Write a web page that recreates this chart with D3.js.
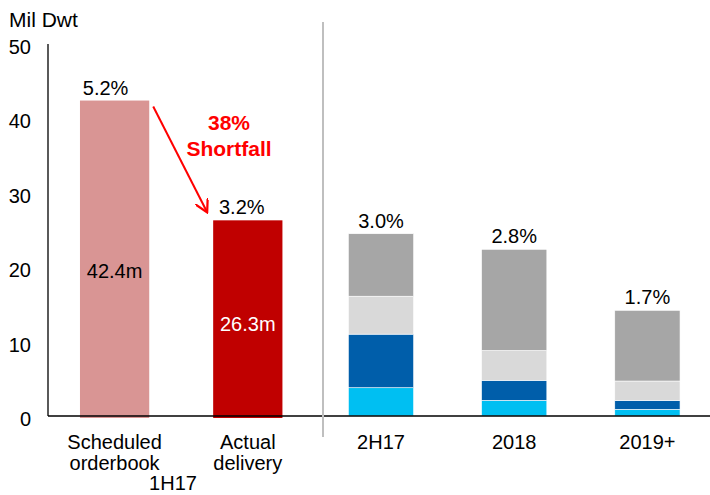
<!DOCTYPE html>
<html>
<head>
<meta charset="utf-8">
<script src="https://cdn.jsdelivr.net/npm/d3@7"></script>
<style>
  body { margin: 0; background: #fff; }
  text { font-family: "Liberation Sans", Arial, sans-serif; }
</style>
</head>
<body>
<div id="chart"></div>
<script>
// data
const categories = ["sched", "actual", "2H17", "2018", "2019+"];
const catLabels = [["Scheduled", "orderbook"], ["Actual", "delivery"], ["2H17"], ["2018"], ["2019+"]];
const singleValues = [42.4, 26.3];
const singleLabels = ["42.4m", "26.3m"];
const stackCats = ["2H17", "2018", "2019+"];
const seg1 = [3.8, 2.1, 0.9];   // cyan
const seg2 = [7.2, 2.7, 1.2];   // dark blue
const seg3 = [5.1, 4.0, 2.6];   // light grey
const seg4 = [8.4, 13.6, 9.5];  // grey
const pctLabels = ["5.2%", "3.2%", "3.0%", "2.8%", "1.7%"];
const yTicks = [0, 10, 20, 30, 40, 50];

const width = 710, height = 495;
const svg = d3.select("#chart").append("svg")
    .attr("width", width).attr("height", height);

const x = d3.scaleBand().domain(categories).range([48, 714]).paddingInner(0.48).paddingOuter(0.24);
const y = d3.scaleLinear().domain([0, 50]).range([416, 44]);

// y axis line and labels
svg.append("line").attr("x1", 48).attr("x2", 48).attr("y1", 44).attr("y2", y(0))
    .attr("stroke", "#000").attr("stroke-width", 1.3);
svg.selectAll(".ytick").data(yTicks).enter().append("text")
    .attr("x", 31).attr("y", d => y(d) + 10)
    .attr("text-anchor", "end").attr("font-size", 20).attr("fill", "#000")
    .text(d => d);
svg.append("text").attr("x", 9).attr("y", 27).attr("font-size", 21).text("Mil Dwt");

// single bars
const singleColors = ["#d99594", "#c00000"];
svg.selectAll(".sbar").data(singleValues).enter().append("rect")
    .attr("x", (d, i) => x(categories[i]))
    .attr("width", x.bandwidth())
    .attr("y", d => y(d))
    .attr("height", d => y(0) - y(d) + 2)
    .attr("fill", (d, i) => singleColors[i]);

svg.selectAll(".slabel").data(singleValues).enter().append("text")
    .attr("x", (d, i) => x(categories[i]) + x.bandwidth() / 2)
    .attr("y", (d, i) => y(d / 2) + (i === 0 ? 20 : 13))
    .attr("text-anchor", "middle").attr("font-size", 20)
    .attr("fill", (d, i) => i === 0 ? "#000" : "#fff")
    .text((d, i) => singleLabels[i]);

// stacked bars
const stackRows = stackCats.map((c, i) => ({cat: c, a: seg1[i], b: seg2[i], c: seg3[i], d: seg4[i]}));
const stack = d3.stack().keys(["a", "b", "c", "d"])(stackRows);
const stackColors = {a: "#00bff2", b: "#005eaa", c: "#d9d9d9", d: "#a6a6a6"};
const sw = x.bandwidth() - 4;
stack.forEach(layer => {
  svg.selectAll(".seg-" + layer.key).data(layer).enter().append("rect")
      .attr("x", d => x(d.data.cat) + 2)
      .attr("width", sw)
      .attr("y", d => y(d[1]))
      .attr("height", d => y(d[0]) - y(d[1]))
      .attr("fill", stackColors[layer.key])
      .attr("stroke", "#fff").attr("stroke-width", 0.6);
});

// totals for percentage labels
const totals = singleValues.concat(stackRows.map(r => r.a + r.b + r.c + r.d));
svg.selectAll(".pct").data(totals).enter().append("text")
    .attr("x", (d, i) => x(categories[i]) + x.bandwidth() / 2 + (i === 0 ? -9 : i === 1 ? -6 : 0))
    .attr("y", d => y(d) - 6)
    .attr("text-anchor", "middle").attr("font-size", 20).attr("fill", "#000")
    .text((d, i) => pctLabels[i]);

// x axis
svg.append("line").attr("x1", 48).attr("x2", 710).attr("y1", y(0)).attr("y2", y(0))
    .attr("stroke", "#000").attr("stroke-width", 1.5);

// separator
svg.append("line").attr("x1", 323).attr("x2", 323).attr("y1", 22).attr("y2", 437)
    .attr("stroke", "#bfbfbf").attr("stroke-width", 2);

// category labels
categories.forEach((c, i) => {
  const t = svg.append("text")
      .attr("x", x(c) + x.bandwidth() / 2).attr("y", 449)
      .attr("text-anchor", "middle").attr("font-size", 20).attr("fill", "#000");
  catLabels[i].forEach((line, j) => {
    t.append("tspan").attr("x", x(c) + x.bandwidth() / 2).attr("dy", j === 0 ? 0 : 21).text(line);
  });
});
svg.append("text").attr("x", 173).attr("y", 490).attr("text-anchor", "middle")
    .attr("font-size", 20).text("1H17");

// shortfall arrow + text
svg.append("defs").append("marker")
    .attr("id", "arr").attr("viewBox", "0 0 10 10").attr("refX", 9).attr("refY", 5)
    .attr("markerWidth", 7).attr("markerHeight", 7).attr("orient", "auto")
  .append("path").attr("d", "M0,0 L9,5 L0,10").attr("fill", "none")
    .attr("stroke", "#ff0000").attr("stroke-width", 1.6);
svg.append("line")
    .attr("x1", x("sched") + x.bandwidth() + 4).attr("y1", y(singleValues[0]) + 6)
    .attr("x2", x("actual") - 6).attr("y2", y(singleValues[1]) - 8)
    .attr("stroke", "#ff0000").attr("stroke-width", 2).attr("marker-end", "url(#arr)");
svg.append("text").attr("x", 229).attr("y", 130).attr("text-anchor", "middle")
    .attr("font-size", 21).attr("font-weight", "bold").attr("fill", "#ff0000").text("38%");
svg.append("text").attr("x", 229).attr("y", 156).attr("text-anchor", "middle")
    .attr("font-size", 21).attr("font-weight", "bold").attr("fill", "#ff0000").text("Shortfall");
</script>
</body>
</html>
